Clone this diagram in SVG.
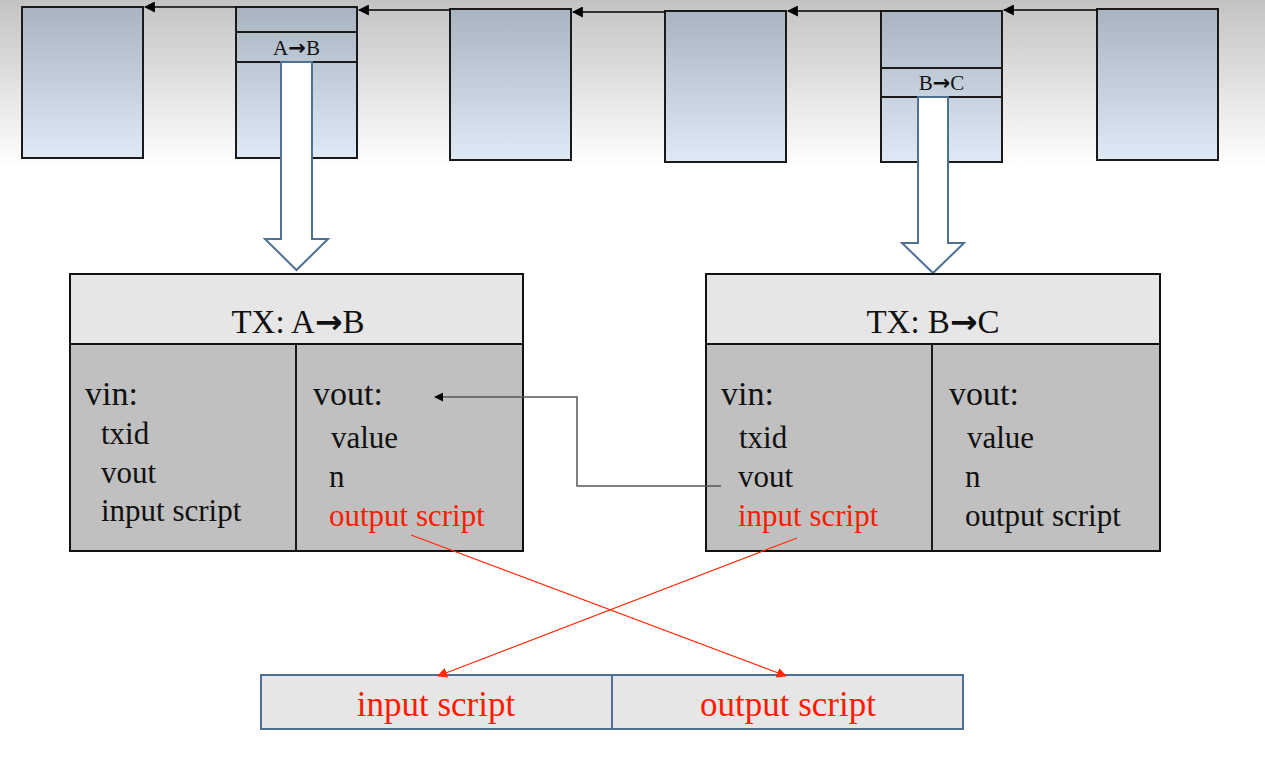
<svg xmlns="http://www.w3.org/2000/svg" width="1265" height="762" viewBox="0 0 1265 762">
<defs>
<linearGradient id="bg" x1="0" y1="0" x2="0" y2="1"><stop offset="0" stop-color="#c3c3c3"/><stop offset="1" stop-color="#ffffff"/></linearGradient>
<linearGradient id="blk" x1="0" y1="0" x2="0" y2="1"><stop offset="0" stop-color="#a8b4bf"/><stop offset="1" stop-color="#deeaf6"/></linearGradient>
<marker id="ah" viewBox="0 0 10 10" refX="9" refY="5" markerWidth="11" markerHeight="11" markerUnits="userSpaceOnUse" orient="auto"><path d="M0,0 L10,5 L0,10 Z" fill="#000"/></marker>
<marker id="ahg" viewBox="0 0 10 10" refX="9" refY="5" markerWidth="9" markerHeight="9" markerUnits="userSpaceOnUse" orient="auto"><path d="M0,0 L10,5 L0,10 Z" fill="#000"/></marker>
<marker id="ahr" viewBox="0 0 10 10" refX="9" refY="5" markerWidth="10" markerHeight="10" markerUnits="userSpaceOnUse" orient="auto"><path d="M0,0 L10,5 L0,10 Z" fill="#ff2a00"/></marker>
</defs>
<style>
.blk{fill:url(#blk);stroke:#1a1a1a;stroke-width:2}
.dv{stroke:#1a1a1a;stroke-width:2}
.hd{fill:#e6e6e6;stroke:#111;stroke-width:2}
.bd{fill:#c0c0c0;stroke:#111;stroke-width:2}
.t{font-family:"Liberation Serif","Times New Roman",serif;fill:#111}
.ar{font-family:"DejaVu Sans",sans-serif;font-weight:bold}
.r{fill:#ff1a00}
.big{font-size:33px}
.hdr{font-size:34px}
.it{font-size:31px}
.sm{font-size:21px}
.hol{fill:#fff;stroke:#4f7196;stroke-width:2}
.bot{fill:#e6e6e6;stroke:#4f7196;stroke-width:2}
</style>
<rect x="0" y="0" width="1265" height="166" fill="url(#bg)"/>

<g id="block1"><rect class="blk" x="22" y="7" width="121" height="151"/></g>
<g id="block2"><rect class="blk" x="236" y="7" width="121" height="151"/><line class="dv" x1="236" y1="32" x2="357" y2="32"/><line class="dv" x1="236" y1="62" x2="357" y2="62"/><text class="t sm" x="296.5" y="55" text-anchor="middle">A<tspan class="ar">→</tspan>B</text></g>
<g id="block3"><rect class="blk" x="450" y="9" width="121" height="151"/></g>
<g id="block4"><rect class="blk" x="665" y="11" width="121" height="151"/></g>
<g id="block5"><rect class="blk" x="881" y="11" width="121" height="151"/><line class="dv" x1="881" y1="68" x2="1002" y2="68"/><line class="dv" x1="881" y1="97" x2="1002" y2="97"/><text class="t sm" x="941.5" y="90" text-anchor="middle">B<tspan class="ar">→</tspan>C</text></g>
<g id="block6"><rect class="blk" x="1097" y="9" width="121" height="151"/></g>

<g id="hollow-arrows">
<path class="hol" d="M281,62 L312,62 L312,239 L328,239 L296.5,270 L265,239 L281,239 Z"/>
<path class="hol" d="M918,97 L948,97 L948,243 L964,243 L933,273 L902,243 L918,243 Z"/>
</g>

<g id="txAB">
<rect class="hd" x="70" y="274" width="453" height="70"/>
<rect class="bd" x="70" y="344" width="453" height="207"/>
<line class="dv" x1="296" y1="344" x2="296" y2="551"/>
<text class="t big" x="298" y="333" text-anchor="middle">TX: A<tspan class="ar">→</tspan>B</text>
<text class="t hdr" x="85" y="405">vin:</text>
<text class="t it" x="101" y="444">txid</text>
<text class="t it" x="101" y="483">vout</text>
<text class="t it" x="101" y="521">input script</text>
<text class="t hdr" x="313" y="405">vout:</text>
<text class="t it" x="331" y="448">value</text>
<text class="t it" x="329" y="487">n</text>
<text class="t it r" x="329" y="526">output script</text>
</g>

<g id="txBC">
<rect class="hd" x="706" y="274" width="454" height="70"/>
<rect class="bd" x="706" y="344" width="454" height="207"/>
<line class="dv" x1="932" y1="344" x2="932" y2="551"/>
<text class="t big" x="933" y="333" text-anchor="middle">TX: B<tspan class="ar">→</tspan>C</text>
<text class="t hdr" x="721" y="405">vin:</text>
<text class="t it" x="739" y="448">txid</text>
<text class="t it" x="738" y="487">vout</text>
<text class="t it r" x="738" y="526">input script</text>
<text class="t hdr" x="949" y="405">vout:</text>
<text class="t it" x="967" y="448">value</text>
<text class="t it" x="965" y="487">n</text>
<text class="t it" x="965" y="526">output script</text>
</g>

<g id="scripts">
<rect class="bot" x="261" y="675" width="351" height="54"/>
<rect class="bot" x="612" y="675" width="351" height="54"/>
<text class="t r" font-size="35" x="436" y="716" text-anchor="middle">input script</text>
<text class="t r" font-size="35" x="788" y="716" text-anchor="middle">output script</text>
</g>

<g id="connectors" fill="none">
<line x1="236" y1="7" x2="145" y2="7" stroke="#000" stroke-width="1.3" marker-end="url(#ah)"/>
<line x1="450" y1="10" x2="359" y2="10" stroke="#000" stroke-width="1.3" marker-end="url(#ah)"/>
<line x1="665" y1="12" x2="573" y2="12" stroke="#000" stroke-width="1.3" marker-end="url(#ah)"/>
<line x1="881" y1="11" x2="788" y2="11" stroke="#000" stroke-width="1.3" marker-end="url(#ah)"/>
<line x1="1097" y1="10" x2="1004" y2="10" stroke="#000" stroke-width="1.3" marker-end="url(#ah)"/>
<polyline points="721,486 577,486 577,397 435,397" stroke="#555" stroke-width="1.5" marker-end="url(#ahg)"/>
<line x1="411" y1="535" x2="786" y2="676" stroke="#ff2a00" stroke-width="1.2" marker-end="url(#ahr)"/>
<line x1="797" y1="538" x2="438" y2="676" stroke="#ff2a00" stroke-width="1.2" marker-end="url(#ahr)"/>
</g>
</svg>
